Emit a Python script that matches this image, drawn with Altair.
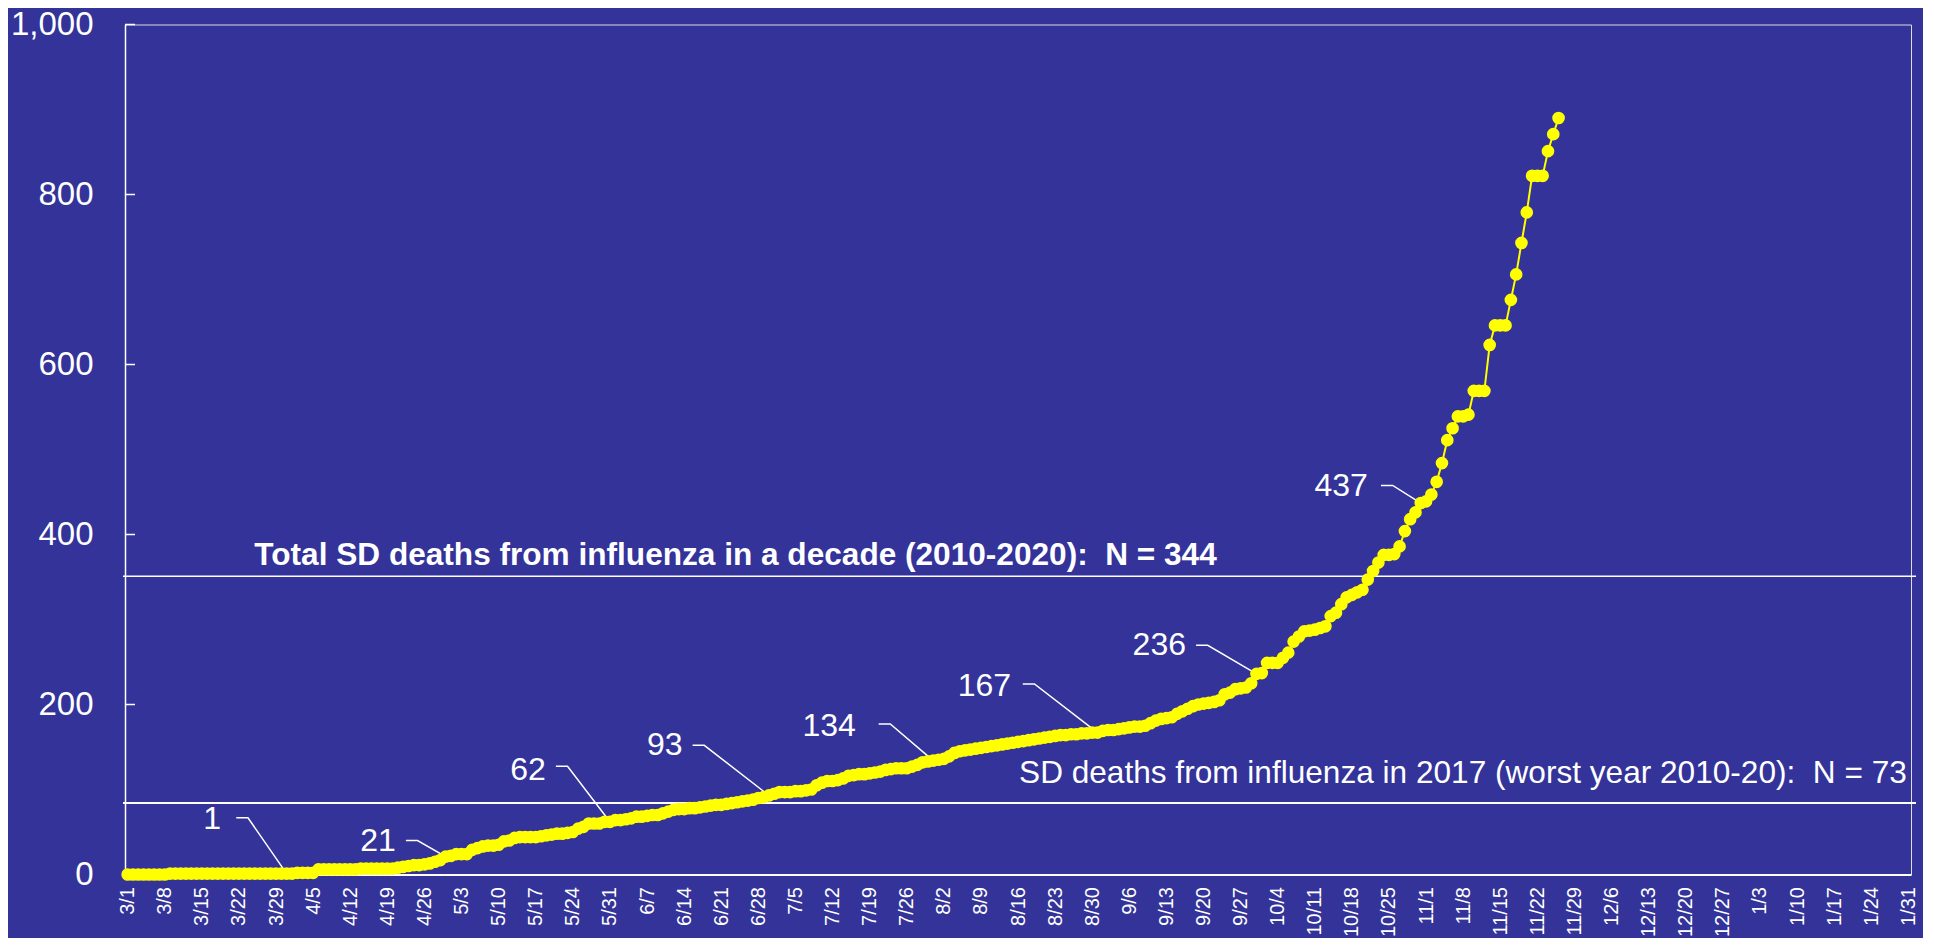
import altair as alt
import pandas as pd

# ---------------- data ----------------
tick_labels = ["3/1", "3/8", "3/15", "3/22", "3/29", "4/5", "4/12", "4/19", "4/26",
               "5/3", "5/10", "5/17", "5/24", "5/31", "6/7", "6/14", "6/21", "6/28",
               "7/5", "7/12", "7/19", "7/26", "8/2", "8/9", "8/16", "8/23", "8/30",
               "9/6", "9/13", "9/20", "9/27", "10/4", "10/11", "10/18", "10/25",
               "11/1", "11/8", "11/15", "11/22", "11/29", "12/6", "12/13", "12/20",
               "12/27", "1/3", "1/10", "1/17", "1/24", "1/31"]
tick_days = [0, 7, 14, 21, 28, 35, 42, 49, 56, 63, 70, 77, 84, 91, 98, 105, 112, 119,
             126, 133, 140, 147, 154, 161, 168, 175, 182, 189, 196, 203, 210, 217, 224,
             231, 238, 245, 252, 259, 266, 273, 280, 287, 294, 301, 308, 315, 322, 329, 336]

deaths_mar = [0, 0, 0, 0, 0, 0, 0, 0, 1, 1, 1, 1, 1, 1, 1, 1, 1, 1, 1, 1, 1, 1, 1, 1,
              1, 1, 1, 1, 1, 1, 1]
deaths_apr = [1, 2, 2, 2, 2, 6, 6, 6, 6, 6, 6, 6, 6, 7, 7, 7, 7, 7, 7, 7, 8, 9, 10, 11,
              11, 12, 13, 15, 17, 21]
deaths_may = [22, 24, 24, 24, 29, 31, 33, 34, 34, 35, 39, 40, 43, 44, 44, 44, 44, 45,
              46, 47, 48, 48, 49, 50, 54, 56, 60, 60, 60, 62, 62]
deaths_jun = [64, 64, 65, 66, 68, 68, 69, 70, 70, 72, 74, 76, 77, 77, 78, 78, 79, 80,
              81, 82, 82, 83, 84, 85, 86, 87, 88, 90, 91, 93]
deaths_jul = [95, 97, 97, 97, 98, 98, 99, 100, 105, 108, 110, 110, 111, 113, 116, 117,
              118, 118, 119, 120, 121, 123, 124, 125, 125, 125, 127, 129, 132, 133, 134]
deaths_aug = [135, 136, 139, 143, 145, 146, 147, 148, 149, 150, 151, 152, 153, 154, 155,
              156, 157, 158, 159, 160, 161, 162, 163, 164, 164, 165, 165, 166, 166, 167, 167]
deaths_sep = [169, 170, 170, 171, 172, 173, 174, 174, 175, 178, 181, 183, 184, 185, 189,
              192, 195, 198, 200, 201, 202, 203, 205, 212, 214, 218, 219, 220, 225, 236]
deaths_oct = [237, 249, 249, 249, 255, 261, 274, 280, 286, 287, 288, 290, 292, 304, 308,
              318, 326, 329, 332, 335, 347, 357, 367, 376, 376, 377, 386, 404, 418, 426, 437]
deaths_nov = [439, 447, 462, 484, 511, 525, 539, 539, 541, 569, 569, 569, 623, 646, 646,
              646, 676, 706, 743, 779, 822, 822, 822, 851, 871, 890]

deaths = (deaths_mar + deaths_apr + deaths_may + deaths_jun + deaths_jul + deaths_aug
          + deaths_sep + deaths_oct + deaths_nov)

y_ticks = [0, 200, 400, 600, 800, 1000]

# annotations (monthly totals)
ann_labels = ["1", "21", "62", "93", "134", "167", "236", "437"]
ann_day = [30, 60, 91, 121, 152, 183, 213, 244]
ann_text_day = [17.6, 50.6, 78.9, 104.7, 137.4, 166.7, 199.7, 234.0]
ann_text_value = [65.8, 39.2, 123.5, 152.9, 175.2, 221.4, 270.4, 456.6]
ann_elbow_day = [20.5, 52.5, 80.8, 106.6, 141.7, 168.9, 201.6, 236.5]
ann_elbow_value = [66.7, 40.0, 127.3, 152.0, 177.2, 224.2, 269.6, 457.7]
elbow_len = 2.2

# reference lines
ref_values = [351, 84]
ref_texts = ["Total SD deaths from influenza in a decade (2010-2020): \u00a0N = 344",
             "SD deaths from influenza in 2017 (worst year 2010-20): \u00a0N = 73"]
ref_text_day = [23.9, 168.2]
ref_text_value = [375, 118]

# ---------------- tables ----------------
series = pd.DataFrame({"day": list(range(len(deaths))), "deaths": deaths})

leader_rows = []
for i, lab in enumerate(ann_labels):
    leader_rows.append({"g": lab, "o": 0, "day": ann_elbow_day[i], "v": ann_elbow_value[i]})
    leader_rows.append({"g": lab, "o": 1, "day": ann_elbow_day[i] + elbow_len, "v": ann_elbow_value[i]})
    leader_rows.append({"g": lab, "o": 2, "day": ann_day[i], "v": deaths[ann_day[i]]})
leaders = pd.DataFrame(leader_rows)

ann_df = pd.DataFrame({"label": ann_labels, "day": ann_text_day, "v": ann_text_value})
ref_df = pd.DataFrame({"v": ref_values, "w": [1.5, 2.0]})
reftext_df = pd.DataFrame({"t": ref_texts, "day": ref_text_day, "v": ref_text_value})
ytick_df = pd.DataFrame({"v": y_ticks})

# ---------------- chart ----------------
W, H = 1786, 850
FONT = "Liberation Sans"
WHITE = "#ffffff"
YELLOW = "#ffff00"

x_scale = alt.Scale(domain=[-0.5, 336.5], nice=False, zero=False)
y_scale = alt.Scale(domain=[0, 1000], nice=False)

label_array = "[" + ",".join("'" + s + "'" for s in tick_labels) + "]"

x_axis = alt.Axis(values=tick_days, labelExpr=label_array + "[round(datum.value/7)]",
                  labelAngle=270, labelFontSize=20, labelFont=FONT, labelColor=WHITE,
                  labelPadding=12, labelOverlap=False, labelFlush=False, labelBound=False,
                  ticks=False, tickSize=0, grid=False, domainColor=WHITE, domainWidth=2,
                  title=None)
y_axis = alt.Axis(values=y_ticks, format=",.0f", labelFontSize=33, labelFont=FONT,
                  labelColor=WHITE, labelPadding=32, labelOverlap=False, labelFlush=False,
                  ticks=False, tickSize=0, grid=False, domainColor=WHITE, domainWidth=1.5,
                  title=None)


def X(field):
    return alt.X(field, scale=x_scale, axis=x_axis)


def Y(field):
    return alt.Y(field, scale=y_scale, axis=y_axis)


line = alt.Chart(series).mark_line(color=YELLOW, strokeWidth=2).encode(
    x=X("day:Q"), y=Y("deaths:Q"),
)
points = alt.Chart(series).mark_circle(color=YELLOW, size=160, opacity=1).encode(
    x=X("day:Q"), y=Y("deaths:Q"),
)

yticks = alt.Chart(ytick_df).mark_rule(color=WHITE, strokeWidth=1.5).encode(
    y=Y("v:Q"),
    x=alt.value(0), x2=alt.value(10),
)

refs = alt.Chart(ref_df).mark_rule(color=WHITE).encode(
    y=Y("v:Q"),
    x=alt.value(-2), x2=alt.value(W + 5),
    strokeWidth=alt.StrokeWidth("w:Q", scale=None, legend=None),
)

leader_lines = alt.Chart(leaders).mark_line(color=WHITE, strokeWidth=1.5).encode(
    x=X("day:Q"), y=Y("v:Q"),
    detail="g:N",
    order="o:Q",
)

ann_text = alt.Chart(ann_df).mark_text(
    color=WHITE, font=FONT, fontSize=32, align="right", baseline="middle"
).encode(
    x=X("day:Q"), y=Y("v:Q"), text="label:N",
)

ref_text_bold = alt.Chart(reftext_df.iloc[[0]]).mark_text(
    color=WHITE, font=FONT, fontSize=31.6, fontWeight="bold", align="left", baseline="middle"
).encode(
    x=X("day:Q"), y=Y("v:Q"), text="t:N",
)
ref_text_reg = alt.Chart(reftext_df.iloc[[1]]).mark_text(
    color=WHITE, font=FONT, fontSize=31.6, align="left", baseline="middle"
).encode(
    x=X("day:Q"), y=Y("v:Q"), text="t:N",
)

chart = alt.layer(
    line, yticks, refs, leader_lines, points, ann_text, ref_text_bold, ref_text_reg
).properties(
    width=W, height=H,
    autosize=alt.AutoSizeParams(type="none"),
    padding={"left": 117, "top": 16.5, "right": 12, "bottom": 63},
    background="#333399",
).configure_view(strokeWidth=0).configure(font=FONT)

chart.save("out.html", embed_options={"renderer": "svg", "actions": False})
